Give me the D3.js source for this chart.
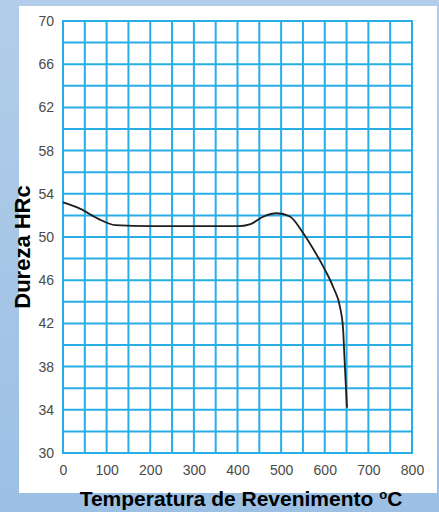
<!DOCTYPE html>
<html>
<head>
<meta charset="utf-8">
<script src="https://cdn.jsdelivr.net/npm/d3@7"></script>
<style>
  html, body { margin: 0; padding: 0; overflow: hidden; }
  svg { display: block; }
</style>
</head>
<body>
<svg id="chart" width="439" height="512"></svg>
<script>
// temperatura de revenimento (°C) e dureza (HRc)
const temperatura = [0, 40, 80, 120, 200, 300, 400, 430, 460, 490, 520, 550, 575, 600, 620, 635, 642, 645, 648, 651];
const dureza = [53.2, 52.6, 51.7, 51.1, 51.0, 51.0, 51.0, 51.2, 51.9, 52.2, 51.9, 50.4, 48.8, 47.0, 45.3, 43.5, 41.5, 39.0, 36.5, 34.2];

const xTicks = [0, 100, 200, 300, 400, 500, 600, 700, 800];
const yTicks = [30, 34, 38, 42, 46, 50, 54, 58, 62, 66, 70];
const xGrid = d3.range(0, 801, 50);
const yGrid = d3.range(30, 71, 2);

const width = 439;
const height = 512;
const margin = {top: 21, right: 27, bottom: 59, left: 63};

const svg = d3.select("#chart");

// fundo azul
const defs = svg.append("defs");
const grad = defs.append("linearGradient")
    .attr("id", "bg")
    .attr("x1", 0).attr("y1", 0).attr("x2", 0).attr("y2", 1);
grad.append("stop").attr("offset", "0%").attr("stop-color", "#b2cdea");
grad.append("stop").attr("offset", "100%").attr("stop-color", "#9bc0e4");

svg.append("rect")
    .attr("width", width)
    .attr("height", height)
    .attr("fill", "url(#bg)");

// painel branco
svg.append("rect")
    .attr("x", 19)
    .attr("y", 6)
    .attr("width", 418)
    .attr("height", 487)
    .attr("fill", "#ffffff");

const x = d3.scaleLinear()
    .domain([0, 800])
    .range([margin.left, width - margin.right]);

const y = d3.scaleLinear()
    .domain([30, 70])
    .range([height - margin.bottom, margin.top]);

// grade
const grid = svg.append("g")
    .attr("stroke", "#27aee8")
    .attr("stroke-width", 2);

grid.selectAll("line.v")
    .data(xGrid)
    .join("line")
    .attr("class", "v")
    .attr("x1", d => x(d)).attr("x2", d => x(d))
    .attr("y1", y(30) + 1).attr("y2", y(70) - 1);

grid.selectAll("line.h")
    .data(yGrid)
    .join("line")
    .attr("class", "h")
    .attr("x1", x(0) - 1).attr("x2", x(800) + 1)
    .attr("y1", d => y(d)).attr("y2", d => y(d));

// eixos
const xAxis = d3.axisBottom(x).tickValues(xTicks).tickSize(0).tickPadding(12);
const yAxis = d3.axisLeft(y).tickValues(yTicks).tickSize(0).tickPadding(9);

const gx = svg.append("g")
    .attr("transform", `translate(0,${y(30)})`)
    .call(xAxis);

const gy = svg.append("g")
    .attr("transform", `translate(${x(0)},0)`)
    .call(yAxis);

[gx, gy].forEach(g => {
    g.select(".domain").remove();
    g.selectAll("text")
        .attr("fill", "#4a4a4a")
        .attr("font-family", "Liberation Sans, Arial, sans-serif")
        .attr("font-size", 14);
});

// curva
const data = temperatura.map((t, i) => ({t: t, v: dureza[i]}));

const line = d3.line()
    .curve(d3.curveMonotoneX)
    .x(d => x(d.t))
    .y(d => y(d.v));

svg.append("path")
    .datum(data)
    .attr("fill", "none")
    .attr("stroke", "#1e1e1e")
    .attr("stroke-width", 1.8)
    .attr("d", line);

// títulos
svg.append("text")
    .attr("text-anchor", "middle")
    .attr("transform", "translate(30,247) rotate(-90)")
    .attr("font-family", "Liberation Sans, Arial, sans-serif")
    .attr("font-weight", "bold")
    .attr("font-size", 22)
    .attr("fill", "#000")
    .text("Dureza HRc");

const xt = svg.append("text")
    .attr("text-anchor", "middle")
    .attr("x", 241)
    .attr("y", 506)
    .attr("font-family", "Liberation Sans, Arial, sans-serif")
    .attr("font-weight", "bold")
    .attr("font-size", 21)
    .attr("fill", "#000");
xt.append("tspan").text("Temperatura de Revenimento ");
xt.append("tspan").attr("font-size", 13).attr("dy", -7).text("o");
xt.append("tspan").attr("dy", 7).text("C");
</script>
</body>
</html>
